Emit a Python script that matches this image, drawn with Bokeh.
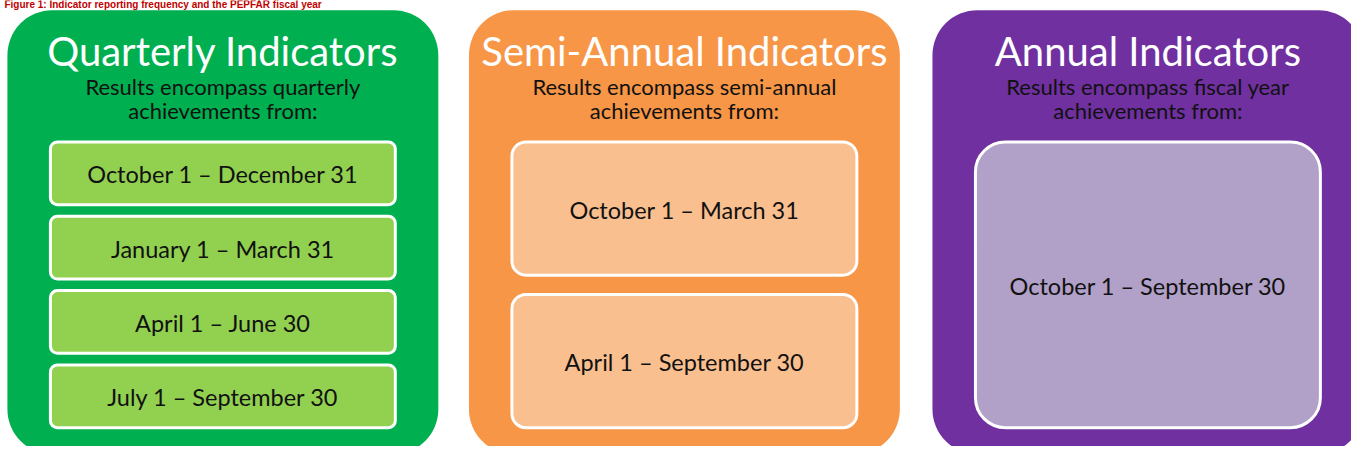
from bokeh.plotting import figure
from bokeh.models import Range1d, ColumnDataSource
from bokeh.core.properties import value
from bokeh.embed import file_html
from bokeh.resources import INLINE

# ---- content ----
fig_title = "Figure 1: Indicator reporting frequency and the PEPFAR fiscal year"
groups = ["Quarterly Indicators", "Semi-Annual Indicators", "Annual Indicators"]
subtitle_line1 = ["Results encompass quarterly",
                  "Results encompass semi-annual",
                  "Results encompass fiscal year"]
subtitle_line2 = ["achievements from:", "achievements from:", "achievements from:"]
quarterly_periods = ["October 1 \u2013 December 31", "January 1 \u2013 March 31",
                     "April 1 \u2013 June 30", "July 1 \u2013 September 30"]
semi_annual_periods = ["October 1 \u2013 March 31", "April 1 \u2013 September 30"]
annual_periods = ["October 1 \u2013 September 30"]
periods = [quarterly_periods, semi_annual_periods, annual_periods]

# ---- style ----
outer_colors = ["#00B050", "#F79646", "#7030A0"]
inner_colors = ["#92D050", "#F9BF8F", "#B1A0C7"]
FONT = "Lato"

W, H = 1351, 446
p = figure(width=W, height=H, output_backend="svg", toolbar_location=None,
           x_range=Range1d(0, 1367), y_range=Range1d(462, 0),
           min_border=0, background_fill_color="white", border_fill_color="white")
p.axis.visible = False
p.grid.visible = False
p.outline_line_color = None

# layout (reference-pixel coordinates)
panel_left = [7, 474, 943]
panel_w = 436
panel_top, panel_bottom = 10, 470
inner_pad = 42
inner_w = 352
inner_top, inner_bottom = 145, 444

p.quad(left=panel_left, right=[l + panel_w for l in panel_left],
       top=[panel_top] * 3, bottom=[panel_bottom] * 3,
       fill_color=outer_colors, line_color=None, border_radius=45)

# inner period boxes
L, R, T, B, C, X, Y, TXT = [], [], [], [], [], [], [], []
radii = []
for gi, per in enumerate(periods):
    n = len(per)
    gap = 9 if n > 2 else 17
    h = (inner_bottom - inner_top - gap * (n - 1)) / n
    for k, label in enumerate(per):
        t = inner_top + k * (h + gap)
        L.append(panel_left[gi] + inner_pad + 1.5)
        R.append(panel_left[gi] + inner_pad + inner_w - 1.5)
        T.append(t + 1.5)
        B.append(t + h - 1.5)
        C.append(inner_colors[gi])
        X.append(panel_left[gi] + inner_pad + inner_w / 2)
        Y.append(t + h / 2 + 1)
        TXT.append(label)
    radii.append(round(h * 0.1))

idx = 0
for gi, per in enumerate(periods):
    n = len(per)
    src = ColumnDataSource(dict(l=L[idx:idx + n], r=R[idx:idx + n], t=T[idx:idx + n],
                                b=B[idx:idx + n], c=C[idx:idx + n]))
    p.quad(left="l", right="r", top="t", bottom="b", fill_color="c", source=src,
           line_color="white", line_width=3, border_radius=radii[gi])
    idx += n

p.text(x=X, y=Y, text=TXT, text_align="center", text_baseline="middle",
       text_font=value(FONT), text_font_size="23.5px", text_color="#111111")

# headers
cx = [panel_left[i] + inner_pad + inner_w / 2 for i in range(3)]
p.text(x=cx, y=[52] * 3, text=groups, text_align="center", text_baseline="middle",
       text_font=value(FONT), text_font_size="40px", text_color="white")
p.text(x=cx, y=[89] * 3, text=subtitle_line1, text_align="center", text_baseline="middle",
       text_font=value(FONT), text_font_size="22px", text_color="#111111")
p.text(x=cx, y=[114] * 3, text=subtitle_line2, text_align="center", text_baseline="middle",
       text_font=value(FONT), text_font_size="22px", text_color="#111111")

# figure caption (only a thin strip is visible above the panels in the reference)
p.text(x=[4], y=[4.5], text=[fig_title], text_align="left", text_baseline="middle",
       text_font=value("Liberation Sans"), text_font_style="bold",
       text_font_size="10px", text_color="#C00000")

open("out.html", "w").write(file_html(p, INLINE))
